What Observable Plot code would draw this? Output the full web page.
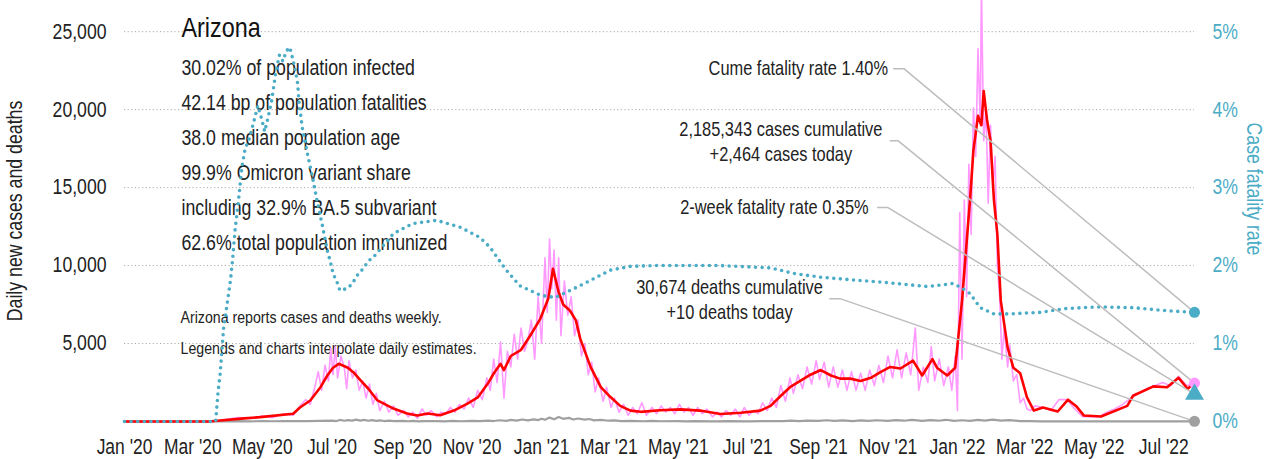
<!DOCTYPE html>
<html><head><meta charset="utf-8">
<script src="https://cdn.jsdelivr.net/npm/d3@7"></script>
<script src="https://cdn.jsdelivr.net/npm/@observablehq/plot@0.6"></script>
<style>
body{margin:0;background:#fff;}
#chart svg{display:block;}
</style></head><body><div id="chart"></div>
<script>
// ---------- data ----------
const stateName = "Arizona";
const statLines = [
  "30.02% of population infected",
  "42.14 bp of population fatalities",
  "38.0 median population age",
  "99.9% Omicron variant share",
  "including 32.9% BA.5 subvariant",
  "62.6% total population immunized"
];
const noteLines = [
  "Arizona reports cases and deaths weekly.",
  "Legends and charts interpolate daily estimates."
];
const xTicks = ["2020-01-01","2020-03-01","2020-05-01","2020-07-01","2020-09-01","2020-11-01",
  "2021-01-01","2021-03-01","2021-05-01","2021-07-01","2021-09-01","2021-11-01",
  "2022-01-01","2022-03-01","2022-05-01","2022-07-01"];
const caseTicks = [5000,10000,15000,20000,25000];
const cfrTicks = [0,1,2,3,4,5];          // percent
const startDate = "2020-01-01";
const endDate = "2022-07-28";

// 7-day average of new cases
const casesAvg = [
["2020-01-01",0],["2020-03-15",0],["2020-03-25",60],["2020-04-15",200],["2020-04-29",280],["2020-05-28",500],["2020-06-03",900],["2020-06-12",1350],["2020-06-21",2200],["2020-06-27",2950],["2020-07-02",3450],["2020-07-07",3700],["2020-07-15",3450],["2020-07-20",3150],["2020-07-26",2650],["2020-08-02",2100],["2020-08-10",1350],["2020-08-24",830],["2020-09-05",510],["2020-09-14",380],["2020-09-23",510],["2020-10-04",400],["2020-10-16",700],["2020-10-28",1150],["2020-11-06",1540],["2020-11-15",2450],["2020-11-20",3080],["2020-11-26",3700],["2020-11-29",3300],["2020-12-05",4200],["2020-12-14",4600],["2020-12-22",5500],["2020-12-31",6600],["2021-01-07",7900],["2021-01-11",9800],["2021-01-16",8300],["2021-01-20",7500],["2021-01-26",7100],["2021-01-31",6500],["2021-02-04",5300],["2021-02-13",3500],["2021-02-22",2200],["2021-03-02",1600],["2021-03-11",1000],["2021-03-20",700],["2021-03-29",620],["2021-04-15",720],["2021-05-03",780],["2021-05-20",700],["2021-06-07",480],["2021-06-25",560],["2021-07-12",700],["2021-07-21",1000],["2021-07-30",1650],["2021-08-07",2200],["2021-08-16",2600],["2021-08-25",3000],["2021-09-03",3300],["2021-09-12",2950],["2021-09-20",2750],["2021-09-29",2750],["2021-10-08",2600],["2021-10-17",2800],["2021-10-25",3150],["2021-11-03",3500],["2021-11-12",3400],["2021-11-23",3900],["2021-12-01",2950],["2021-12-10",4000],["2021-12-14",3450],["2021-12-23",2950],["2021-12-30",3450],["2022-01-02",5600],["2022-01-05",7750],["2022-01-10",12400],["2022-01-12",14200],["2022-01-15",17400],["2022-01-19",19600],["2022-01-22",19000],["2022-01-24",21200],["2022-01-27",19300],["2022-01-30",18000],["2022-02-02",14200],["2022-02-05",12000],["2022-02-08",7750],["2022-02-14",4750],["2022-02-19",3450],["2022-02-25",3100],["2022-03-03",1550],["2022-03-09",700],["2022-03-17",900],["2022-03-30",640],["2022-04-08",1400],["2022-04-15",1000],["2022-04-22",380],["2022-05-07",320],["2022-05-30",1000],["2022-06-04",1650],["2022-06-22",2250],["2022-07-04",2200],["2022-07-14",2800],["2022-07-22",2100],["2022-07-28",2464]
];

// daily new cases (raw)
const casesDaily = [
["2020-01-01",0],["2020-03-20",0],["2020-04-01",150],["2020-04-10",250],["2020-04-20",200],["2020-05-01",350],["2020-05-10",250],["2020-05-20",500],["2020-05-28",400],["2020-06-03",1000],["2020-06-08",1400],["2020-06-12",1100],["2020-06-16",2200],["2020-06-19",3200],["2020-06-22",2000],["2020-06-25",3600],["2020-06-28",2600],["2020-06-30",4700],["2020-07-02",3000],["2020-07-04",4800],["2020-07-06",2800],["2020-07-09",4200],["2020-07-12",3400],["2020-07-14",2100],["2020-07-16",3900],["2020-07-19",2800],["2020-07-22",3300],["2020-07-25",2000],["2020-07-28",2600],["2020-07-31",1500],["2020-08-03",2400],["2020-08-06",1100],["2020-08-09",1800],["2020-08-12",700],["2020-08-16",1300],["2020-08-20",600],["2020-08-24",1000],["2020-08-28",400],["2020-09-02",700],["2020-09-06",300],["2020-09-10",600],["2020-09-14",200],["2020-09-18",800],["2020-09-22",400],["2020-09-26",700],["2020-10-01",300],["2020-10-05",600],["2020-10-09",500],["2020-10-13",900],["2020-10-17",600],["2020-10-21",1100],["2020-10-25",800],["2020-10-29",1500],["2020-11-02",900],["2020-11-06",2000],["2020-11-10",1400],["2020-11-14",2800],["2020-11-17",2000],["2020-11-20",4000],["2020-11-23",2500],["2020-11-26",5100],["2020-11-29",1500],["2020-12-02",4500],["2020-12-05",3500],["2020-12-08",5600],["2020-12-11",4000],["2020-12-14",6000],["2020-12-17",4500],["2020-12-20",5200],["2020-12-23",6500],["2020-12-26",4000],["2020-12-29",8000],["2021-01-01",5000],["2021-01-04",10500],["2021-01-06",7000],["2021-01-08",11700],["2021-01-10",8500],["2021-01-12",11000],["2021-01-14",6500],["2021-01-16",10500],["2021-01-18",5500],["2021-01-21",9000],["2021-01-24",6800],["2021-01-27",8000],["2021-01-30",5500],["2021-02-02",6500],["2021-02-05",4200],["2021-02-08",5000],["2021-02-11",3000],["2021-02-14",3800],["2021-02-17",1900],["2021-02-20",2800],["2021-02-24",1300],["2021-02-27",2200],["2021-03-03",900],["2021-03-06",1500],["2021-03-10",600],["2021-03-14",1100],["2021-03-18",400],["2021-03-22",900],["2021-03-26",500],["2021-03-30",1200],["2021-04-03",400],["2021-04-08",900],["2021-04-12",500],["2021-04-16",1000],["2021-04-20",600],["2021-04-24",900],["2021-04-28",500],["2021-05-02",1100],["2021-05-06",600],["2021-05-10",900],["2021-05-14",400],["2021-05-18",900],["2021-05-22",500],["2021-05-26",800],["2021-05-31",300],["2021-06-04",600],["2021-06-08",300],["2021-06-12",700],["2021-06-16",400],["2021-06-20",800],["2021-06-24",300],["2021-06-28",900],["2021-07-02",400],["2021-07-06",700],["2021-07-10",500],["2021-07-14",1200],["2021-07-18",700],["2021-07-22",1500],["2021-07-26",900],["2021-07-30",2300],["2021-08-03",1300],["2021-08-07",2800],["2021-08-10",1800],["2021-08-14",3000],["2021-08-18",2100],["2021-08-22",3500],["2021-08-26",2400],["2021-08-30",3900],["2021-09-02",2700],["2021-09-06",3800],["2021-09-10",2200],["2021-09-14",3500],["2021-09-18",2200],["2021-09-22",3300],["2021-09-26",2000],["2021-09-30",3200],["2021-10-04",2000],["2021-10-08",3100],["2021-10-12",2000],["2021-10-16",3300],["2021-10-20",2300],["2021-10-24",3600],["2021-10-28",2500],["2021-11-01",4200],["2021-11-05",2800],["2021-11-09",4600],["2021-11-13",2800],["2021-11-17",4400],["2021-11-21",3000],["2021-11-25",6000],["2021-11-28",2000],["2021-12-02",3500],["2021-12-06",2500],["2021-12-09",4800],["2021-12-12",2600],["2021-12-16",4000],["2021-12-20",2300],["2021-12-24",3500],["2021-12-27",2000],["2021-12-30",4200],["2022-01-01",700],["2022-01-03",13400],["2022-01-05",4000],["2022-01-07",14200],["2022-01-09",8000],["2022-01-11",16500],["2022-01-13",12000],["2022-01-15",20100],["2022-01-17",17000],["2022-01-19",23900],["2022-01-21",19000],["2022-01-22",28000],["2022-01-24",18000],["2022-01-26",20000],["2022-01-28",14000],["2022-01-30",19000],["2022-02-01",15000],["2022-02-03",17000],["2022-02-05",10000],["2022-02-07",8000],["2022-02-09",4000],["2022-02-11",6000],["2022-02-14",3500],["2022-02-16",4900],["2022-02-19",2600],["2022-02-22",3000],["2022-02-25",1200],["2022-02-28",1500],["2022-03-03",800],["2022-03-06",700],["2022-03-10",1000],["2022-03-17",900],["2022-03-24",700],["2022-03-31",1400],["2022-04-07",1400],["2022-04-14",800],["2022-04-21",300],["2022-04-28",300],["2022-05-05",300],["2022-05-12",600],["2022-05-19",800],["2022-05-26",1100],["2022-06-02",1500],["2022-06-09",1800],["2022-06-16",2100],["2022-06-23",2300],["2022-06-30",2500],["2022-07-07",2300],["2022-07-14",2900],["2022-07-21",2300],["2022-07-28",2464]
];

// daily new deaths
const deathsDaily = [
["2020-01-01",0],["2020-03-20",0],["2020-03-28",5],["2020-04-10",20],["2020-04-20",10],["2020-05-01",25],["2020-05-10",15],["2020-05-20",30],["2020-06-01",20],["2020-06-10",30],["2020-06-20",40],["2020-07-01",60],["2020-07-05",30],["2020-07-08",100],["2020-07-12",50],["2020-07-15",90],["2020-07-19",60],["2020-07-22",120],["2020-07-26",60],["2020-07-29",100],["2020-08-02",50],["2020-08-05",90],["2020-08-09",40],["2020-08-12",70],["2020-08-16",30],["2020-08-20",60],["2020-08-25",20],["2020-09-01",40],["2020-09-06",15],["2020-09-10",40],["2020-09-15",10],["2020-09-20",30],["2020-10-01",30],["2020-10-08",10],["2020-10-15",35],["2020-10-22",15],["2020-11-01",40],["2020-11-08",20],["2020-11-15",60],["2020-11-20",30],["2020-11-25",80],["2020-12-01",40],["2020-12-05",100],["2020-12-10",60],["2020-12-15",130],["2020-12-20",70],["2020-12-25",140],["2020-12-29",90],["2021-01-01",180],["2021-01-04",110],["2021-01-08",250],["2021-01-12",140],["2021-01-16",290],["2021-01-20",170],["2021-01-25",230],["2021-01-29",130],["2021-02-02",190],["2021-02-08",120],["2021-02-12",160],["2021-02-16",70],["2021-02-22",110],["2021-03-01",50],["2021-03-06",70],["2021-03-12",25],["2021-03-20",40],["2021-04-01",15],["2021-04-08",35],["2021-04-15",15],["2021-05-01",30],["2021-05-08",10],["2021-05-15",30],["2021-06-01",10],["2021-06-15",30],["2021-07-01",10],["2021-07-15",30],["2021-08-01",20],["2021-08-08",50],["2021-08-15",25],["2021-08-22",60],["2021-09-01",35],["2021-09-08",80],["2021-09-15",40],["2021-09-22",70],["2021-10-01",30],["2021-10-08",70],["2021-10-15",40],["2021-10-22",80],["2021-11-01",40],["2021-11-08",90],["2021-11-15",50],["2021-11-22",100],["2021-12-01",40],["2021-12-08",90],["2021-12-15",50],["2021-12-22",110],["2021-12-29",40],["2022-01-05",80],["2022-01-12",40],["2022-01-19",100],["2022-01-25",60],["2022-02-01",120],["2022-02-08",60],["2022-02-15",90],["2022-02-25",30],["2022-03-05",20],["2022-03-15",10],["2022-07-28",10]
];

// case fatality rate, percent
const cfrPct = [
["2020-01-01",0],["2020-03-21",0],["2020-03-23",0.36],["2020-03-25",0.62],["2020-03-28",1.2],["2020-03-31",1.5],["2020-04-03",1.81],["2020-04-05",2.1],["2020-04-07",2.45],["2020-04-10",2.83],["2020-04-13",3.26],["2020-04-16",3.51],["2020-04-19",3.6],["2020-04-23",3.82],["2020-04-27",4.05],["2020-04-30",3.9],["2020-05-03",3.72],["2020-05-06",3.9],["2020-05-09",4.1],["2020-05-13",4.5],["2020-05-16",4.7],["2020-05-19",4.62],["2020-05-22",4.75],["2020-05-25",4.8],["2020-05-27",4.69],["2020-05-30",4.5],["2020-06-01",4.33],["2020-06-02",4.12],["2020-06-05",3.77],["2020-06-09",3.47],["2020-06-14",3.13],["2020-06-18",2.83],["2020-06-23",2.49],["2020-06-27",2.19],["2020-06-30",2.03],["2020-07-02",1.9],["2020-07-06",1.77],["2020-07-08",1.68],["2020-07-15",1.71],["2020-07-19",1.77],["2020-07-23",1.87],["2020-07-29",1.97],["2020-08-02",2.06],["2020-08-06",2.1],["2020-08-24",2.41],["2020-09-10",2.54],["2020-10-01",2.58],["2020-10-22",2.49],["2020-11-08",2.36],["2020-11-17",2.23],["2020-11-30",1.96],["2020-12-13",1.74],["2020-12-31",1.62],["2021-01-13",1.59],["2021-01-26",1.68],["2021-02-13",1.81],["2021-03-02",1.94],["2021-03-20",1.99],["2021-04-09",2.0],["2021-06-07",2.0],["2021-07-21",1.97],["2021-08-10",1.9],["2021-09-03",1.85],["2021-11-01",1.78],["2021-12-06",1.73],["2021-12-28",1.77],["2022-01-04",1.72],["2022-01-12",1.64],["2022-01-21",1.46],["2022-02-02",1.38],["2022-02-16",1.38],["2022-03-15",1.4],["2022-04-07",1.45],["2022-05-06",1.47],["2022-06-04",1.46],["2022-07-04",1.42],["2022-07-28",1.40]
];

// latest values shown at the right edge
const cumeCfr = 1.40, casesToday = 2464, twoWeekCfr = 0.35, deathsToday = 10;
const annoLabels = [
  "Cume fatality rate 1.40%",
  "2,185,343 cases cumulative\n+2,464 cases today",
  "2-week fatality rate 0.35%",
  "30,674 deaths cumulative\n+10 deaths today"
];

// ---------- chart ----------
const FONT = '"Liberation Sans",Arial,sans-serif';
const NARROW = 0.82;   // horizontal squeeze -> narrow grotesque look
const TEAL = "#4bacc6", PINK = "#ff99ff", RED = "#ff0000", GRAY = "#a0a0a0", LEAD = "#bdbdbd";
const CFR_K = 5000;  // 1% on the right axis = 5,000 on the left
const parse = d3.utcParse("%Y-%m-%d");
const rows = (arr, k = 1) => arr.map(([d, v]) => ({date: parse(d), value: v * k}));

const avg = rows(casesAvg), daily = rows(casesDaily), deaths = rows(deathsDaily), cfr = rows(cfrPct, CFR_K);
const end = parse(endDate);

// annotation layout (data space anchors)
const anno = [
  {text: annoLabels[0], date: parse("2021-11-01"), value: 22630, anchor: "end",    s: parse("2021-11-06"), e: parse("2021-11-15"), target: cumeCfr * CFR_K},
  {text: annoLabels[1], date: parse("2021-07-30"), value: 18000, anchor: "middle", s: parse("2021-11-03"), e: parse("2021-11-10"), target: casesToday},
  {text: annoLabels[2], date: parse("2021-10-15"), value: 13720, anchor: "end",    s: parse("2021-10-23"), e: parse("2021-11-01"), target: twoWeekCfr * CFR_K},
  {text: annoLabels[3], date: parse("2021-06-15"), value: 7880,  anchor: "middle", s: parse("2021-09-11"), e: parse("2021-09-20"), target: deathsToday}
];
const leaders = anno.flatMap((a, i) => [
  {id: i, date: a.s, value: a.value},
  {id: i, date: a.e, value: a.value},
  {id: i, date: end, value: a.target}
]);
const circles = [
  {date: end, value: cumeCfr * CFR_K, fill: TEAL},
  {date: end, value: casesToday, fill: PINK},
  {date: end, value: deathsToday, fill: GRAY}
];
const triangles = [{date: end, value: twoWeekCfr * CFR_K}];

const chart = Plot.plot({
  width: 1281, height: 459,
  marginLeft: 124, marginRight: 87, marginTop: 0, marginBottom: 38,
  style: {fontFamily: FONT, fontSize: "21px", color: "#222", background: "#fff"},
  x: {type: "utc", domain: [parse(startDate), end]},
  y: {domain: [0, 27000]},
  marks: [
    Plot.gridY(caseTicks, {stroke: "#aaa", strokeOpacity: 1, strokeDasharray: "1.2,2.4", strokeWidth: 1}),
    Plot.axisY(caseTicks, {anchor: "left", tickSize: 0, tickPadding: 18, tickFormat: d3.format(","), label: null, fontSize: 21.5}),
    Plot.axisY(cfrTicks.map(d => d * CFR_K), {anchor: "right", tickSize: 0, tickPadding: 18, tickFormat: d => d / CFR_K + "%", label: null, color: TEAL, fontSize: 21.5}),
    Plot.axisX(xTicks.map(parse), {tickSize: 0, tickPadding: 17, tickFormat: d3.utcFormat("%b '%y"), label: null, fontSize: 21.3}),
    Plot.text(["Daily new cases and deaths"], {frameAnchor: "left", dx: -109, rotate: -90, textAnchor: "middle", fontSize: 21.6, fill: "#222"}),
    Plot.text(["Case fatality rate"], {frameAnchor: "right", dx: 59, dy: -22, rotate: 90, textAnchor: "middle", fontSize: 21.6, fill: TEAL}),
    Plot.text([stateName], {frameAnchor: "top-left", dx: 57, dy: 27, textAnchor: "start", lineAnchor: "middle", fontSize: 28.5, fill: "#111"}),
    Plot.text([statLines.join("\n")], {frameAnchor: "top-left", dx: 57, dy: 50, textAnchor: "start", lineAnchor: "top", lineHeight: 35 / 21.6, fontSize: 21.6, fill: "#222"}),
    Plot.text([noteLines.join("\n")], {frameAnchor: "top-left", dx: 56, dy: 300, textAnchor: "start", lineAnchor: "top", lineHeight: 31 / 17.3, fontSize: 17.3, fill: "#222"}),
    Plot.text(anno.filter(a => a.anchor === "end"), {x: "date", y: "value", text: "text", textAnchor: "end", fontSize: 20, fill: "#222"}),
    Plot.text(anno.filter(a => a.anchor === "middle"), {x: "date", y: "value", text: "text", textAnchor: "middle", lineHeight: 1.25, fontSize: 20, fill: "#222"}),
    Plot.line(daily, {x: "date", y: "value", stroke: PINK, strokeWidth: 1.6, clip: true}),
    Plot.line(deaths, {x: "date", y: "value", stroke: GRAY, strokeWidth: 2.2}),
    Plot.line(avg, {x: "date", y: "value", stroke: RED, strokeWidth: 2.6}),
    Plot.line(cfr, {x: "date", y: "value", stroke: TEAL, strokeWidth: 3.6, strokeDasharray: "0,6.6", strokeLinecap: "round"}),
    Plot.line(leaders, {x: "date", y: "value", z: "id", stroke: LEAD, strokeWidth: 1.5}),
    Plot.dot(circles, {x: "date", y: "value", fill: "fill", r: 5.5}),
    Plot.dot(triangles, {x: "date", y: "value", fill: TEAL, symbol: "triangle", r: 7})
  ]
});

// squeeze every text horizontally about its own anchor to get a narrow face
chart.querySelectorAll("text").forEach(t => {
  const x = parseFloat(t.getAttribute("x")) || 0;
  const tr = t.getAttribute("transform") || "";
  t.setAttribute("transform", `${tr} translate(${x},0) scale(${NARROW},1) translate(${-x},0)`);
});
document.getElementById("chart").appendChild(chart);
</script>
</body></html>
